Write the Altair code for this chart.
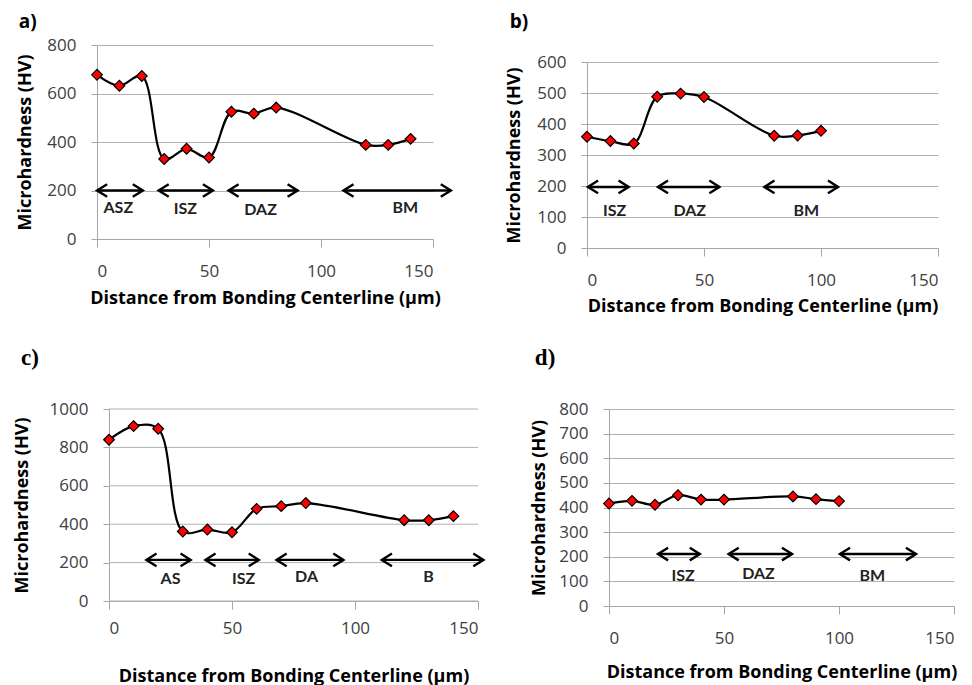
import altair as alt
import pandas as pd

SANS = "Open Sans"
ZSANS = "Lato"
SERIF = "Liberation Serif"
X_TITLE = "Distance from Bonding Centerline (µm)"
Y_TITLE = "Microhardness (HV)"
X_TICKS = [0, 50, 100, 150]
X_MAX = 150

# ---- panel a ----
a_x = [0, 10, 20, 30, 40, 50, 60, 70, 80, 120, 130, 140]
a_y = [677, 632, 672, 330, 372, 336, 525, 517, 542, 388, 388, 413]
a_arrow_start = [0, 27.5, 58.7, 110]
a_arrow_end = [20.5, 51.8, 89.6, 158]
a_arrow_level = [200, 200, 200, 200]
a_zone = ["ASZ", "ISZ", "DAZ", "BM"]
a_zone_x = [9.5, 39.4, 73, 137.6]
a_zone_y = [128, 123, 118, 128]

# ---- panel b ----
b_x = [0, 10, 20, 30, 40, 50, 80, 90, 100]
b_y = [359, 345, 337, 488, 498, 487, 362, 363, 378]
b_arrow_start = [0.4, 30.3, 75.8]
b_arrow_end = [17.8, 56.6, 107.3]
b_arrow_level = [197, 197, 197]
b_zone = ["ISZ", "DAZ", "BM"]
b_zone_x = [11.8, 43.9, 93.7]
b_zone_y = [118, 118, 118]

# ---- panel c ----
c_x = [0, 10, 20, 30, 40, 50, 60, 70, 80, 120, 130, 140]
c_y = [840, 911, 897, 362, 372, 358, 480, 494, 510, 421, 421, 442]
c_arrow_start = [15.2, 39.2, 68.1, 110.9]
c_arrow_end = [33.2, 60.9, 95.3, 152.2]
c_arrow_level = [214, 214, 214, 214]
c_zone = ["AS", "ISZ", "DA", "B"]
c_zone_x = [25, 54.7, 80.3, 129.9]
c_zone_y = [113, 113, 127, 127]

# ---- panel d ----
d_x = [0, 10, 20, 30, 40, 50, 80, 90, 100]
d_y = [416, 427, 411, 450, 432, 432, 445, 434, 426]
d_arrow_start = [21.3, 52, 100.4]
d_arrow_end = [39.5, 79.6, 133.5]
d_arrow_level = [211, 211, 211]
d_zone = ["ISZ", "DAZ", "BM"]
d_zone_x = [32.2, 65, 114.5]
d_zone_y = [120, 130, 120]

LEFT_HEAD = "M1.6,-1 L0,0 L1.6,1"
RIGHT_HEAD = "M-1.6,-1 L0,0 L-1.6,1"


def panel(label, label_font, label_size, label_offset, label_dx,
          xs, ys, ymax, ystep, a0, a1, alev, zones, zx, zy,
          w, h, xlab_pad, xtitle_pad, ytitle_pad, ytop=0, xshift=0):
    yticks = list(range(0, ymax + 1, ystep))
    if xshift:
        xsc = alt.Scale(domain=[0, X_MAX], nice=False, zero=False,
                        range=[xshift, w + xshift])
    else:
        xsc = alt.Scale(domain=[0, X_MAX], nice=False, zero=False)
    if ytop:
        ysc = alt.Scale(domain=[0, ymax], nice=False, zero=False,
                        range=[h + ytop, ytop])
    else:
        ysc = alt.Scale(domain=[0, ymax], nice=False, zero=False)
    xax = alt.Axis(values=X_TICKS, title=X_TITLE, grid=False, tickSize=8,
                   labelPadding=xlab_pad, titlePadding=xtitle_pad,
                   labelBaseline="middle")
    yax_kw = dict(values=yticks, title=Y_TITLE, grid=(xshift == 0), tickSize=6,
                  labelPadding=15, format="d", titlePadding=ytitle_pad)
    if xshift:
        yax_kw["offset"] = -xshift
    yax = alt.Axis(**yax_kw)
    X = alt.X("x:Q", scale=xsc, axis=xax)
    Y = alt.Y("y:Q", scale=ysc, axis=yax)

    pts = pd.DataFrame({"x": xs, "y": ys})
    arrows = pd.DataFrame({"x": a0, "x2": a1, "y": alev})
    lheads = pd.DataFrame({"x": a0, "y": alev})
    rheads = pd.DataFrame({"x": a1, "y": alev})
    zl = pd.DataFrame({"x": zx, "y": zy, "t": zones})
    grid = pd.DataFrame({"x": [0] * len(yticks), "x2": [X_MAX] * len(yticks),
                         "y": yticks})

    layers = []
    if xshift:
        layers.append(alt.Chart(grid).mark_rule(color="#b0b0b0", strokeWidth=1)
                      .encode(x=X, x2="x2:Q", y=Y))
    line = alt.Chart(pts).mark_line(color="black", strokeWidth=2.2,
                                    interpolate="catmull-rom").encode(x=X, y=Y)
    dots = alt.Chart(pts).mark_point(shape="diamond", filled=True, color="#ff0000",
                                     stroke="black", strokeWidth=1.2, size=115,
                                     opacity=1).encode(x=X, y=Y)
    shaft = alt.Chart(arrows).mark_rule(color="black", strokeWidth=2.4).encode(
        x=X, x2="x2:Q", y=Y)
    lh = alt.Chart(lheads).mark_point(shape=LEFT_HEAD, filled=False, color="black",
                                      strokeWidth=2.4, size=160, opacity=1,
                                      strokeJoin="miter").encode(x=X, y=Y)
    rh = alt.Chart(rheads).mark_point(shape=RIGHT_HEAD, filled=False, color="black",
                                      strokeWidth=2.4, size=160, opacity=1,
                                      strokeJoin="miter").encode(x=X, y=Y)
    txt = alt.Chart(zl).mark_text(font=ZSANS, fontSize=16, fontWeight="bold",
                                  color="#222222").encode(x=X, y=Y, text="t:N")
    layers += [shaft, lh, rh, txt, line, dots]
    return alt.layer(*layers).properties(
        width=w + xshift, height=h + ytop,
        title=alt.TitleParams(text=label, anchor="start", frame="bounds",
                              font=label_font, fontSize=label_size,
                              fontWeight="bold", color="black",
                              offset=label_offset, dx=label_dx),
    )


pa = panel("a)", SANS, 19, 4, 2, a_x, a_y, 800, 200, a_arrow_start, a_arrow_end,
           a_arrow_level, a_zone, a_zone_x, a_zone_y, 336, 194, 24, 10, 12)
pb = panel("b)", SANS, 19, 13, 4, b_x, b_y, 600, 100, b_arrow_start, b_arrow_end,
           b_arrow_level, b_zone, b_zone_x, b_zone_y, 351, 186, 24, 9, 13, ytop=17)
pc = panel("c)", SERIF, 23, 30, 8, c_x, c_y, 1000, 200, c_arrow_start, c_arrow_end,
           c_arrow_level, c_zone, c_zone_x, c_zone_y, 369, 192, 19, 31, 18,
           xshift=12)
pd_ = panel("d)", SERIF, 23, 30, 4, d_x, d_y, 800, 100, d_arrow_start, d_arrow_end,
            d_arrow_level, d_zone, d_zone_x, d_zone_y, 345, 197, 24, 17, 10)

chart = alt.vconcat(
    alt.hconcat(pa, pb, spacing=49),
    alt.hconcat(pc, pd_, spacing=41),
    spacing=32,
).properties(padding=5).configure_view(stroke=None).configure_axis(
    labelFont=SANS, labelFontSize=17, labelColor="#404040",
    titleFont=SANS, titleFontSize=18, titleFontWeight="bold", titleColor="black",
    domainColor="#a6a6a6", tickColor="#a6a6a6", gridColor="#b0b0b0",
    domainWidth=1, tickWidth=1, gridWidth=1,
)

chart.save("out.html", embed_options={"renderer": "svg", "actions": False})
